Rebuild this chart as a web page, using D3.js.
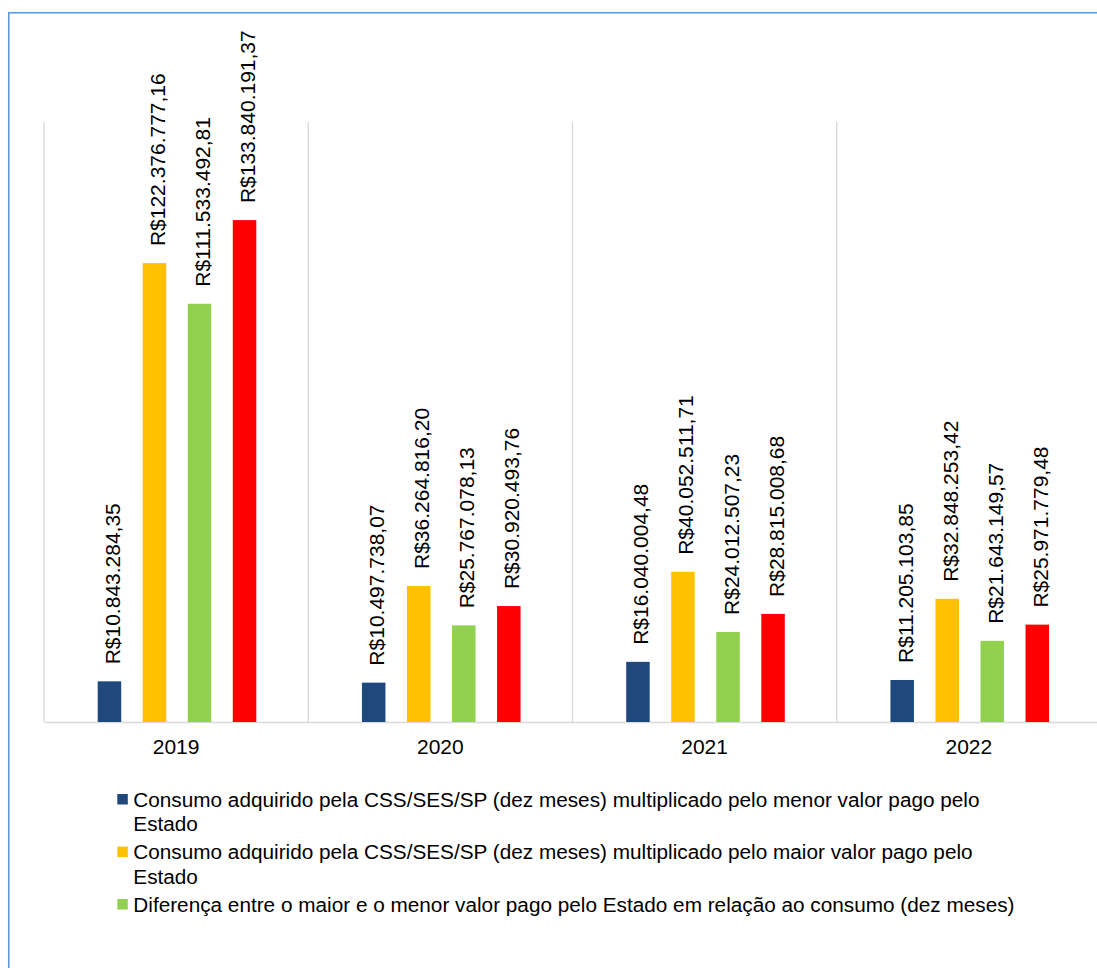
<!DOCTYPE html>
<html>
<head>
<meta charset="utf-8">
<script src="https://cdn.jsdelivr.net/npm/d3@7"></script>
<style>
  html, body { margin: 0; padding: 0; background: #fff; overflow: hidden; }
  svg { display: block; font-family: "Liberation Sans", Arial, sans-serif; }
</style>
</head>
<body>
<svg id="chart" width="1097" height="968"></svg>
<script>
const categories = ["2019", "2020", "2021", "2022"];
const seriesKeys = ["menor", "maior", "diferenca", "quarta"];
const seriesColors = ["#1F497D", "#FFC000", "#92D050", "#FF0000"];
const menorValues = [10843284.35, 10497738.07, 16040004.48, 11205103.85];
const maiorValues = [122376777.16, 36264816.20, 40052511.71, 32848253.42];
const diferencaValues = [111533492.81, 25767078.13, 24012507.23, 21643149.57];
const quartaValues = [133840191.37, 30920493.76, 28815008.68, 25971779.48];
const legendLines = [
  ["Consumo adquirido pela CSS/SES/SP (dez meses) multiplicado pelo menor valor pago pelo", "Estado"],
  ["Consumo adquirido pela CSS/SES/SP (dez meses) multiplicado pelo maior valor pago pelo", "Estado"],
  ["Diferença entre o maior e o menor valor pago pelo Estado em relação ao consumo (dez meses)"]
];

const seriesValues = [menorValues, maiorValues, diferencaValues, quartaValues];
const data = categories.map((c, i) => ({
  cat: c,
  vals: seriesKeys.map((k, j) => ({ key: k, value: seriesValues[j][i], color: seriesColors[j] }))
}));

const svg = d3.select("#chart");

// outer chart border
svg.append("rect")
  .attr("x", 8.75).attr("y", 12.75)
  .attr("width", 1200).attr("height", 1100)
  .attr("fill", "none").attr("stroke", "#5B9BD5").attr("stroke-width", 1.6);

const plot = { left: 44, right: 1101, top: 122, bottom: 722 };

const x0 = d3.scaleBand().domain(categories).range([plot.left, plot.right]).padding(0);
const cw = x0.bandwidth();
const groupOffset = cw * 0.2032;
const x1 = d3.scaleBand().domain(seriesKeys)
  .range([groupOffset, groupOffset + 158.6]).paddingInner(0.478).paddingOuter(0);
const y = d3.scaleLinear().domain([0, 160000000]).range([plot.bottom, plot.top]);

// vertical separator gridlines at category boundaries
const boundaries = categories.map(c => x0(c)).concat([x0(categories[categories.length - 1]) + cw]);
svg.append("g").selectAll("line").data(boundaries).join("line")
  .attr("x1", d => d).attr("x2", d => d)
  .attr("y1", plot.top).attr("y2", plot.bottom)
  .attr("stroke", "#D9D9D9").attr("stroke-width", 1.3);

// bottom axis
const xAxis = d3.axisBottom(x0).tickSize(0).tickPadding(0);
const ax = svg.append("g").attr("transform", `translate(0,${plot.bottom})`).call(xAxis);
ax.select(".domain").attr("stroke", "#D9D9D9").attr("stroke-width", 1.3);
ax.selectAll("text")
  .attr("font-size", 21).attr("fill", "#000")
  .attr("font-family", "'Liberation Sans', Arial, sans-serif")
  .attr("dy", 0).attr("y", 32);

// bars
const groups = svg.append("g").selectAll("g").data(data).join("g")
  .attr("transform", d => `translate(${x0(d.cat)},0)`);

groups.selectAll("rect").data(d => d.vals).join("rect")
  .attr("x", d => x1(d.key))
  .attr("width", x1.bandwidth())
  .attr("y", d => y(d.value))
  .attr("height", d => plot.bottom - y(d.value))
  .attr("fill", d => d.color);

// value labels
const fmt = v => {
  const parts = v.toFixed(2).split(".");
  const intPart = parts[0].replace(/\B(?=(\d{3})+(?!\d))/g, ".");
  return "R$" + intPart + "," + parts[1];
};
groups.selectAll("text.lbl").data(d => d.vals).join("text")
  .attr("class", "lbl")
  .attr("transform", d => `translate(${x1(d.key) + x1.bandwidth() / 2 + 10.5},${y(d.value) - 17}) rotate(-90)`)
  .attr("text-anchor", "start")
  .attr("font-size", 21)
  .attr("fill", "#000")
  .text(d => fmt(d.value));

// legend
const legend = svg.append("g");
const legendStarts = [806.7, 859.3, 911.7];
legendLines.forEach((lines, i) => {
  const g = legend.append("g");
  g.append("rect")
    .attr("x", 117.3).attr("y", legendStarts[i] - 12.7)
    .attr("width", 10.5).attr("height", 10.5)
    .attr("fill", seriesColors[i]);
  lines.forEach((ln, k) => {
    g.append("text")
      .attr("x", 133.3).attr("y", legendStarts[i] + k * 24.3)
      .attr("font-size", 20.75).attr("fill", "#000")
      .text(ln);
  });
});
</script>
</body>
</html>
